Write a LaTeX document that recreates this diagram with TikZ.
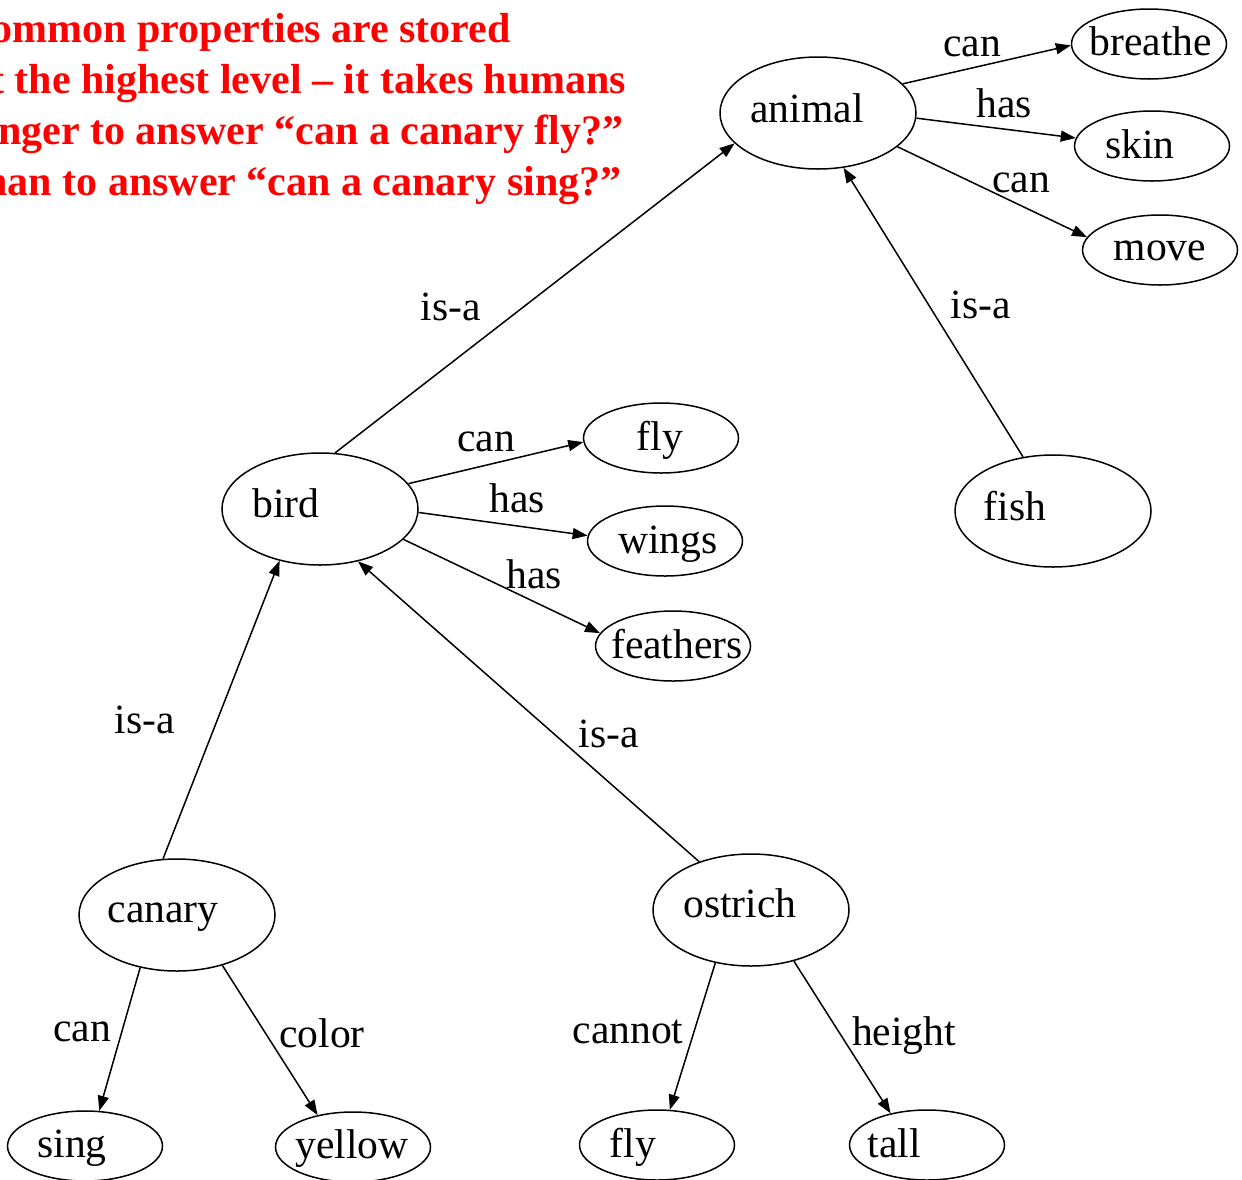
\documentclass[tikz,border=0pt]{standalone}
\usepackage{fontspec}
\setmainfont{Liberation Serif}
\usetikzlibrary{arrows.meta,shapes.geometric}
\begin{document}
\begin{tikzpicture}[x=0.5pt,y=-0.5pt,
  concept/.style={draw, ellipse, line width=0.75pt, minimum width=98pt, minimum height=56pt, inner sep=0pt},
  value/.style={draw, ellipse, line width=0.75pt, minimum width=77.5pt, minimum height=35pt, inner sep=0pt},
  word/.style={anchor=base, inner sep=0pt, font=\fontsize{20.8}{25}\selectfont},
  note/.style={anchor=base west, inner sep=0pt, text=red, font=\fontsize{21}{25.5}\selectfont\bfseries},
  link/.style={line width=0.75pt, -{Triangle[length=7.5pt,width=5.5pt]}},
]
\useasboundingbox (0,0) rectangle (1242,1179);
\clip (0,0) rectangle (1242,1179);

% remark in the upper left corner
\node[note] (note1) at (-39,42)  {Common properties are stored};
\node[note] (note2) at (-31,93)  {at the highest level – it takes humans};
\node[note] (note3) at (-35,144) {longer to answer “can a canary fly?”};
\node[note] (note4) at (-30,195) {than to answer “can a canary sing?”};

% concept nodes
\node[concept] (animal)  at (818,113) {};
\node[concept] (bird)    at (320,509) {};
\node[concept] (fish)    at (1053,511) {};
\node[concept] (canary)  at (177,915) {};
\node[concept] (ostrich) at (751,910) {};

% property nodes
\node[value] (breathe)  at (1149,44) {};
\node[value] (skin)     at (1152,146) {};
\node[value] (move)     at (1160,250) {};
\node[value] (flyB)     at (661,438) {};
\node[value] (wings)    at (665,541) {};
\node[value] (feathers) at (673,646) {};
\node[value] (sing)     at (85,1146) {};
\node[value] (yellow)   at (353,1147) {};
\node[value] (flyO)     at (657,1145) {};
\node[value] (tall)     at (927,1145) {};

% node captions
\node[word] (t-animal)   at (807,122)  {animal};
\node[word] (t-bird)     at (286,517)  {bird};
\node[word] (t-fish)     at (1015,520) {fish};
\node[word] (t-canary)   at (163,922)  {canary};
\node[word] (t-ostrich)  at (740,917)  {ostrich};
\node[word] (t-breathe)  at (1151,55)  {breathe};
\node[word] (t-skin)     at (1140,158) {skin};
\node[word] (t-move)     at (1160,260) {move};
\node[word] (t-flyB)     at (660,450)  {fly};
\node[word] (t-wings)    at (668,553)  {wings};
\node[word] (t-feathers) at (677,658)  {feathers};
\node[word] (t-sing)     at (72,1157)  {sing};
\node[word] (t-yellow)   at (352,1158) {yellow};
\node[word] (t-flyO)     at (633,1157) {fly};
\node[word] (t-tall)     at (894,1157) {tall};

% relations
\draw[link] (animal.19)   -- (breathe.181);
\draw[link] (animal.-3)   -- (skin.174);
\draw[link] (animal.-23)  -- (move.170);
\draw[link] (bird.75)     -- (animal.200);
\draw[link] (fish.119)    -- (animal.295);
\draw[link] (bird.16)     -- (flyB.183);
\draw[link] (bird.-2)     -- (wings.176);
\draw[link] (bird.-20)    -- (feathers.170);
\draw[link] (canary.104)  -- (bird.232);
\draw[link] (ostrich.137) -- (bird.306);
\draw[link] (canary.235)  -- (sing.68);
\draw[link] (canary.312)  -- (yellow.138);
\draw[link] (ostrich.236) -- (flyO.70);
\draw[link] (ostrich.310) -- (tall.139);

% relation labels
\node[word] (l-breathe)  at (972,56)   {can};
\node[word] (l-skin)     at (1004,117) {has};
\node[word] (l-move)     at (1021,192) {can};
\node[word] (l-birdanim) at (451,320)  {is-a};
\node[word] (l-fishanim) at (981,318)  {is-a};
\node[word] (l-flyB)     at (486,451)  {can};
\node[word] (l-wings)    at (517,512)  {has};
\node[word] (l-feathers) at (534,588)  {has};
\node[word] (l-canary)   at (145,733)  {is-a};
\node[word] (l-ostrich)  at (609,747)  {is-a};
\node[word] (l-sing)     at (82,1041)  {can};
\node[word] (l-yellow)   at (322,1047) {color};
\node[word] (l-flyO)     at (628,1043) {cannot};
\node[word] (l-tall)     at (904,1045) {height};
\end{tikzpicture}
\end{document}
